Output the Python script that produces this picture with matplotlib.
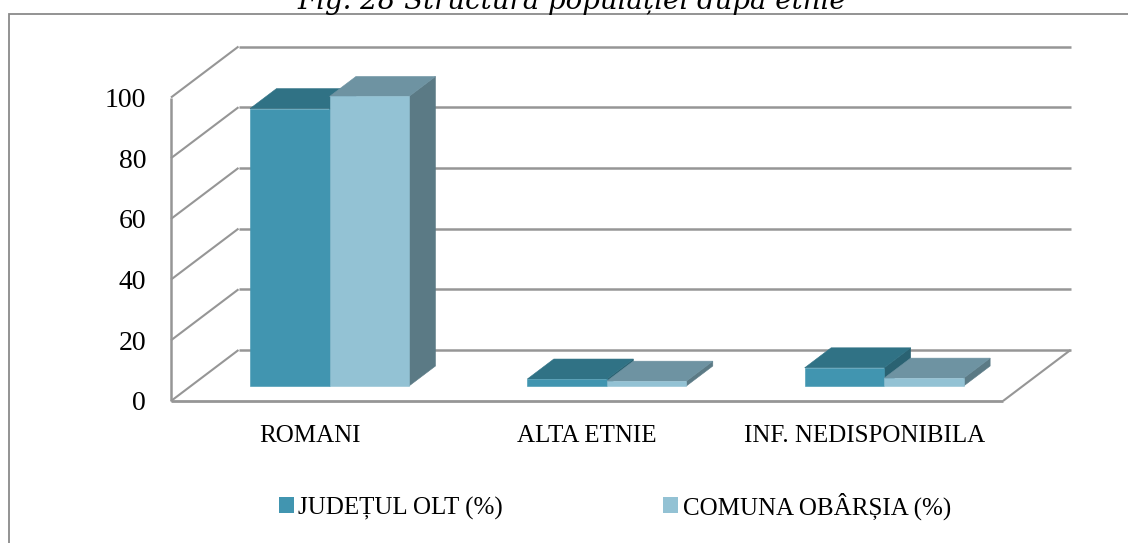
import matplotlib
matplotlib.use("Agg")
import matplotlib.pyplot as plt
from matplotlib.patches import Polygon, Rectangle, Patch
from matplotlib.lines import Line2D

categories = ["ROMANI", "ALTA ETNIE", "INF. NEDISPONIBILA"]
judet = [91.4, 2.3, 6.0]
comuna = [95.4, 1.6, 2.6]
series_names = ["JUDEȚUL OLT (%)", "COMUNA OBÂRȘIA (%)"]
y_ticks = [0, 20, 40, 60, 80, 100]
title = "Fig. 28 Structura populației după etnie"

W, H = 1128, 543
FONT = "Liberation Serif"
GRID = "#969696"

fig = plt.figure(figsize=(W / 100, H / 100), dpi=100)
L, R, T, B = 171, 1003, 97.5, 401
ax = fig.add_axes([L / W, 1 - B / H, (R - L) / W, (B - T) / H])
ax.set_xlim(0, 3)
ax.set_ylim(0, 100)
for s in ax.spines.values():
    s.set_visible(False)
ax.patch.set_visible(False)

ux = (R - L) / 3      # px per category
uy = (B - T) / 100    # px per value unit
DX = 67.5 / ux        # full depth shift in category units
DY = 51 / uy          # full depth shift in value units


def P(x, v, d):
    return (x + d * DX, v + d * DY)


def poly(pts, color, z):
    ax.add_patch(Polygon(pts, closed=True, facecolor=color, edgecolor=color,
                         lw=0.4, zorder=z, clip_on=False))


def seg(a, b, lw):
    ax.add_line(Line2D(*zip(a, b), color=GRID, lw=lw, zorder=1, clip_on=False,
                       solid_capstyle="butt"))


for v in y_ticks:
    seg(P(0, v, 1), P(3, v, 1), 1.8)
    seg(P(0, v, 0), P(0, v, 1), 1.5)
seg((0, 0), (0, 100), 1.8)
seg((0, 0), (3, 0), 2.0)
seg(P(3, 0, 0), P(3, 0, 1), 1.5)

D0, D1 = 0.294, 0.686
BW = 79.5 / ux


def bar(x0, h, front, top, side, z):
    x1 = x0 + BW
    poly([P(x1, 0, D0), P(x1, 0, D1), P(x1, h, D1), P(x1, h, D0)], side, z)
    poly([P(x0, h, D0), P(x1, h, D0), P(x1, h, D1), P(x0, h, D1)], top, z)
    poly([P(x0, 0, D0), P(x1, 0, D0), P(x1, h, D0), P(x0, h, D0)], front, z)


C1 = ("#4195B0", "#307285", "#2A6272")
C2 = ("#93C2D4", "#6E93A2", "#5B7A85")
for i in range(len(categories)):
    c = i + 0.5
    bar(c - BW, judet[i], *C1, 3 + i)
    bar(c, comuna[i], *C2, 3 + i)

ax.set_yticks(y_ticks)
ax.set_xticks([i + 0.5 for i in range(3)])
ax.set_xticklabels(categories, fontfamily=FONT, fontsize=18, color="black")
ax.set_yticklabels([str(v) for v in y_ticks], fontfamily=FONT, fontsize=20, color="black")
ax.tick_params(axis="y", length=0, pad=18)
ax.tick_params(axis="x", length=0, pad=17)

# outer frame
fig.add_artist(Rectangle((9 / W, -0.05), 1.1, 1 - 14 / H + 0.05, transform=fig.transFigure,
                         facecolor="none", edgecolor="#8a8a8a", lw=1.3))

fig.text(572 / W, 1 - 9 / H, title, family="DejaVu Serif", style="italic", fontsize=19.9,
         ha="center", va="baseline", color="black")

handles = [Patch(facecolor=C1[0], label=series_names[0]),
           Patch(facecolor=C2[0], label=series_names[1])]
fig.legend(handles=handles, loc="center", bbox_to_anchor=(615 / W, 1 - 506 / H), ncol=2,
           frameon=False, prop={"family": FONT, "size": 18},
           handlelength=0.6, handleheight=0.6, handletextpad=0.2, columnspacing=6.4)

fig.savefig("out.png", dpi=100)
